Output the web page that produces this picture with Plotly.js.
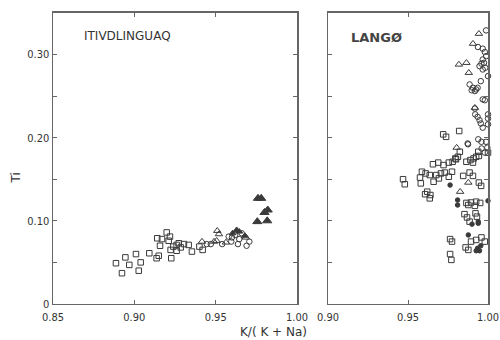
<!DOCTYPE html>
<html>
<head>
<meta charset="utf-8">
<script src="https://cdn.plot.ly/plotly-3.0.1.min.js"></script>
<style>html,body{margin:0;padding:0;background:#fff;} #chart{width:500px;height:340px;}</style>
</head>
<body>
<div id="chart"></div>
<script>
// ---------- Left panel: Itivdlinguaq ----------
const leftSquaresX = [0.8887,0.8924,0.8945,0.8969,0.9010,0.9039,0.9027,0.9092,0.9137,0.9150,0.9141,0.9170,0.9158,0.9199,0.9219,0.9211,0.9227,0.9223,0.9240,0.9260,0.9273,0.9260,0.9285,0.9305,0.9334,0.9354,0.9400,0.9420];
const leftSquaresY = [0.049,0.037,0.056,0.047,0.060,0.050,0.040,0.061,0.055,0.058,0.079,0.078,0.070,0.086,0.081,0.076,0.055,0.065,0.069,0.071,0.073,0.064,0.068,0.072,0.071,0.063,0.069,0.065];
const leftTrianglesX = [0.9416,0.9490,0.9506,0.9510,0.9520,0.9563,0.9686];
const leftTrianglesY = [0.075,0.075,0.076,0.088,0.084,0.074,0.080];
const leftCirclesX = [0.9445,0.9470,0.9540,0.9580,0.9600,0.9596,0.9637,0.9645,0.9660,0.9690,0.9707,0.9620];
const leftCirclesY = [0.072,0.072,0.072,0.081,0.080,0.075,0.072,0.078,0.085,0.070,0.075,0.083];
const leftFilledTriX = [0.9604,0.9629,0.9645,0.9680];
const leftFilledTriY = [0.085,0.089,0.087,0.082];
const leftBigTriX = [0.9760,0.9780,0.9800,0.9820,0.9756,0.9817];
const leftBigTriY = [0.127,0.127,0.110,0.113,0.099,0.100];

// ---------- Right panel: Langø ----------
const rightTrianglesX = [0.9943,0.9906,0.9818,0.9865,0.9880,0.9918,0.9804,0.9826,0.9877];
const rightTrianglesY = [0.325,0.313,0.288,0.290,0.278,0.236,0.188,0.135,0.146];
const rightCirclesX = [0.9988,0.9937,0.9967,0.9980,0.9988,0.9967,0.9975,0.9959,0.9983,0.9947,0.9967,0.9955,1.0000,0.9885,0.9906,0.9926,0.9898,0.9918,0.9935,0.9967,0.9980,0.9918,0.9920,0.9935,0.9947,0.9955,0.9967,1.0000,1.0000,1.0000,0.9873,0.9939,0.9959,0.9988,0.9960,0.9996,0.9980,0.9875];
const rightCirclesY = [0.329,0.309,0.307,0.303,0.298,0.294,0.290,0.289,0.284,0.286,0.282,0.268,0.274,0.264,0.260,0.258,0.257,0.256,0.260,0.246,0.245,0.235,0.228,0.225,0.221,0.217,0.212,0.228,0.223,0.216,0.193,0.198,0.195,0.195,0.187,0.188,0.182,0.192];
const rightSquaresX = [0.9720,0.9738,0.9820,0.9469,0.9480,0.9587,0.9610,0.9575,0.9580,0.9636,0.9660,0.9677,0.9706,0.9693,0.9730,0.9755,0.9775,0.9656,0.9689,0.9722,0.9755,0.9779,0.9796,0.9812,0.9824,0.9865,0.9890,0.9910,0.9800,0.9620,0.9640,0.9607,0.9636,0.9865,0.9894,0.9926,0.9951,0.9877,0.9918,0.9853,0.9869,0.9922,0.9931,0.9885,0.9763,0.9775,0.9860,0.9877,0.9894,0.9926,0.9959,0.9980,0.9763,0.9771,0.9845,0.9885,0.9906,0.9943,0.9957,0.9906,0.9943,0.9939,0.9926,1.0000];
const rightSquaresY = [0.204,0.201,0.208,0.150,0.144,0.159,0.157,0.152,0.145,0.155,0.147,0.155,0.157,0.151,0.158,0.153,0.159,0.168,0.170,0.167,0.170,0.171,0.175,0.177,0.183,0.171,0.173,0.175,0.174,0.135,0.131,0.132,0.127,0.1215,0.122,0.123,0.1215,0.119,0.118,0.108,0.104,0.109,0.105,0.099,0.078,0.075,0.068,0.065,0.075,0.077,0.080,0.075,0.060,0.053,0.154,0.158,0.154,0.146,0.142,0.170,0.178,0.183,0.177,0.182];
const rightFilledX = [0.9763,0.9810,0.9810,1.0000,0.9900,0.9939,0.9877,0.9935,0.9947,0.9926,0.9955,0.9939];
const rightFilledY = [0.143,0.119,0.125,0.124,0.096,0.097,0.083,0.067,0.064,0.064,0.070,0.099];

// ---------- Axis ticks ----------
const leftXTicks = [0.85,0.90,0.95,1.00];
const leftXLabels = ['0.85','0.90','0.95','1.00'];
const rightXTicks = [0.90,0.95,1.00];
const rightXLabels = ['0.90','0.95','1.00'];
const yTicks = [0,0.10,0.20,0.30];
const yLabels = ['0','0.10','0.20','0.30'];

const ink = '#3a3a3a';
function pts(x, y, xa, ya, symbol, size) {
  return {
    type: 'scatter', mode: 'markers', x: x, y: y, xaxis: xa, yaxis: ya,
    cliponaxis: false, hoverinfo: 'skip',
    marker: {symbol: symbol, size: size, color: ink, line: {color: ink, width: 1}}
  };
}

const data = [
  pts(leftSquaresX, leftSquaresY, 'x', 'y', 'square-open', 5.5),
  pts(leftTrianglesX, leftTrianglesY, 'x', 'y', 'triangle-up-open', 6.5),
  pts(leftCirclesX, leftCirclesY, 'x', 'y', 'circle-open', 5.5),
  pts(leftFilledTriX, leftFilledTriY, 'x', 'y', 'triangle-up', 6),
  pts(leftBigTriX, leftBigTriY, 'x', 'y', 'triangle-up', 8),
  pts(rightSquaresX, rightSquaresY, 'x2', 'y2', 'square-open', 5.5),
  pts(rightTrianglesX, rightTrianglesY, 'x2', 'y2', 'triangle-up-open', 6.5),
  pts(rightCirclesX, rightCirclesY, 'x2', 'y2', 'circle-open', 5.5),
  pts(rightFilledX, rightFilledY, 'x2', 'y2', 'circle', 4.5)
];

const tickFont = {family: 'DejaVu Sans Condensed, Liberation Sans Narrow, Arial Narrow, sans-serif', size: 11, color: '#333'};
const axBase = {
  showline: true, linecolor: '#666', linewidth: 1.5, mirror: 'ticks',
  ticks: 'inside', ticklen: 4, tickwidth: 1, tickcolor: '#666',
  showgrid: false, zeroline: false, tickfont: tickFont, fixedrange: true,
  ticklabeloverflow: 'allow'
};
const yMinor = {dtick: 0.05, ticks: 'inside', ticklen: 4, tickwidth: 1, tickcolor: '#666', showgrid: false};

const layout = {
  width: 500, height: 340, autosize: false,
  margin: {l: 0, r: 0, t: 0, b: 0},
  paper_bgcolor: '#fff', plot_bgcolor: '#fff',
  showlegend: false,
  xaxis: Object.assign({}, axBase, {domain: [0.106, 0.594], range: [0.85, 1.0], anchor: 'y',
          tickmode: 'array', tickvals: leftXTicks, ticktext: leftXLabels, ticklabelstandoff: 2}),
  yaxis: Object.assign({}, axBase, {domain: [0.106, 0.962], range: [0, 0.35], anchor: 'x',
          tickmode: 'array', tickvals: yTicks, ticktext: yLabels, minor: yMinor, ticklabelstandoff: 0}),
  xaxis2: Object.assign({}, axBase, {domain: [0.656, 0.976], range: [0.90, 1.0], anchor: 'y2',
          tickmode: 'array', tickvals: rightXTicks, ticktext: rightXLabels, ticklabelstandoff: 2}),
  yaxis2: Object.assign({}, axBase, {domain: [0.106, 0.962], range: [0, 0.35], anchor: 'x2',
          tickmode: 'array', tickvals: yTicks, ticktext: yLabels, showticklabels: false, minor: yMinor}),
  annotations: [
    {text: 'ITIVDLINGUAQ', xref: 'paper', yref: 'paper', x: 0.164, y: 0.893, xanchor: 'left', yanchor: 'middle',
     showarrow: false, font: {family: 'DejaVu Sans, sans-serif', size: 12, color: '#333'}},
    {text: 'LANGØ', xref: 'paper', yref: 'paper', x: 0.698, y: 0.891, xanchor: 'left', yanchor: 'middle',
     showarrow: false, font: {family: 'DejaVu Sans, sans-serif', size: 13, color: '#444', weight: 'bold'}},
    {text: 'K/( K + Na)', xref: 'paper', yref: 'paper', x: 0.617, y: 0.024, xanchor: 'right', yanchor: 'middle',
     showarrow: false, font: {family: 'DejaVu Sans, sans-serif', size: 12, color: '#333'}},
    {text: 'Ti', xref: 'paper', yref: 'paper', x: 0.03, y: 0.475, xanchor: 'center', yanchor: 'middle',
     textangle: -90, showarrow: false, font: {family: 'DejaVu Sans, sans-serif', size: 12, color: '#333'}}
  ]
};

Plotly.newPlot('chart', data, layout, {staticPlot: true, displayModeBar: false});
</script>
</body>
</html>
